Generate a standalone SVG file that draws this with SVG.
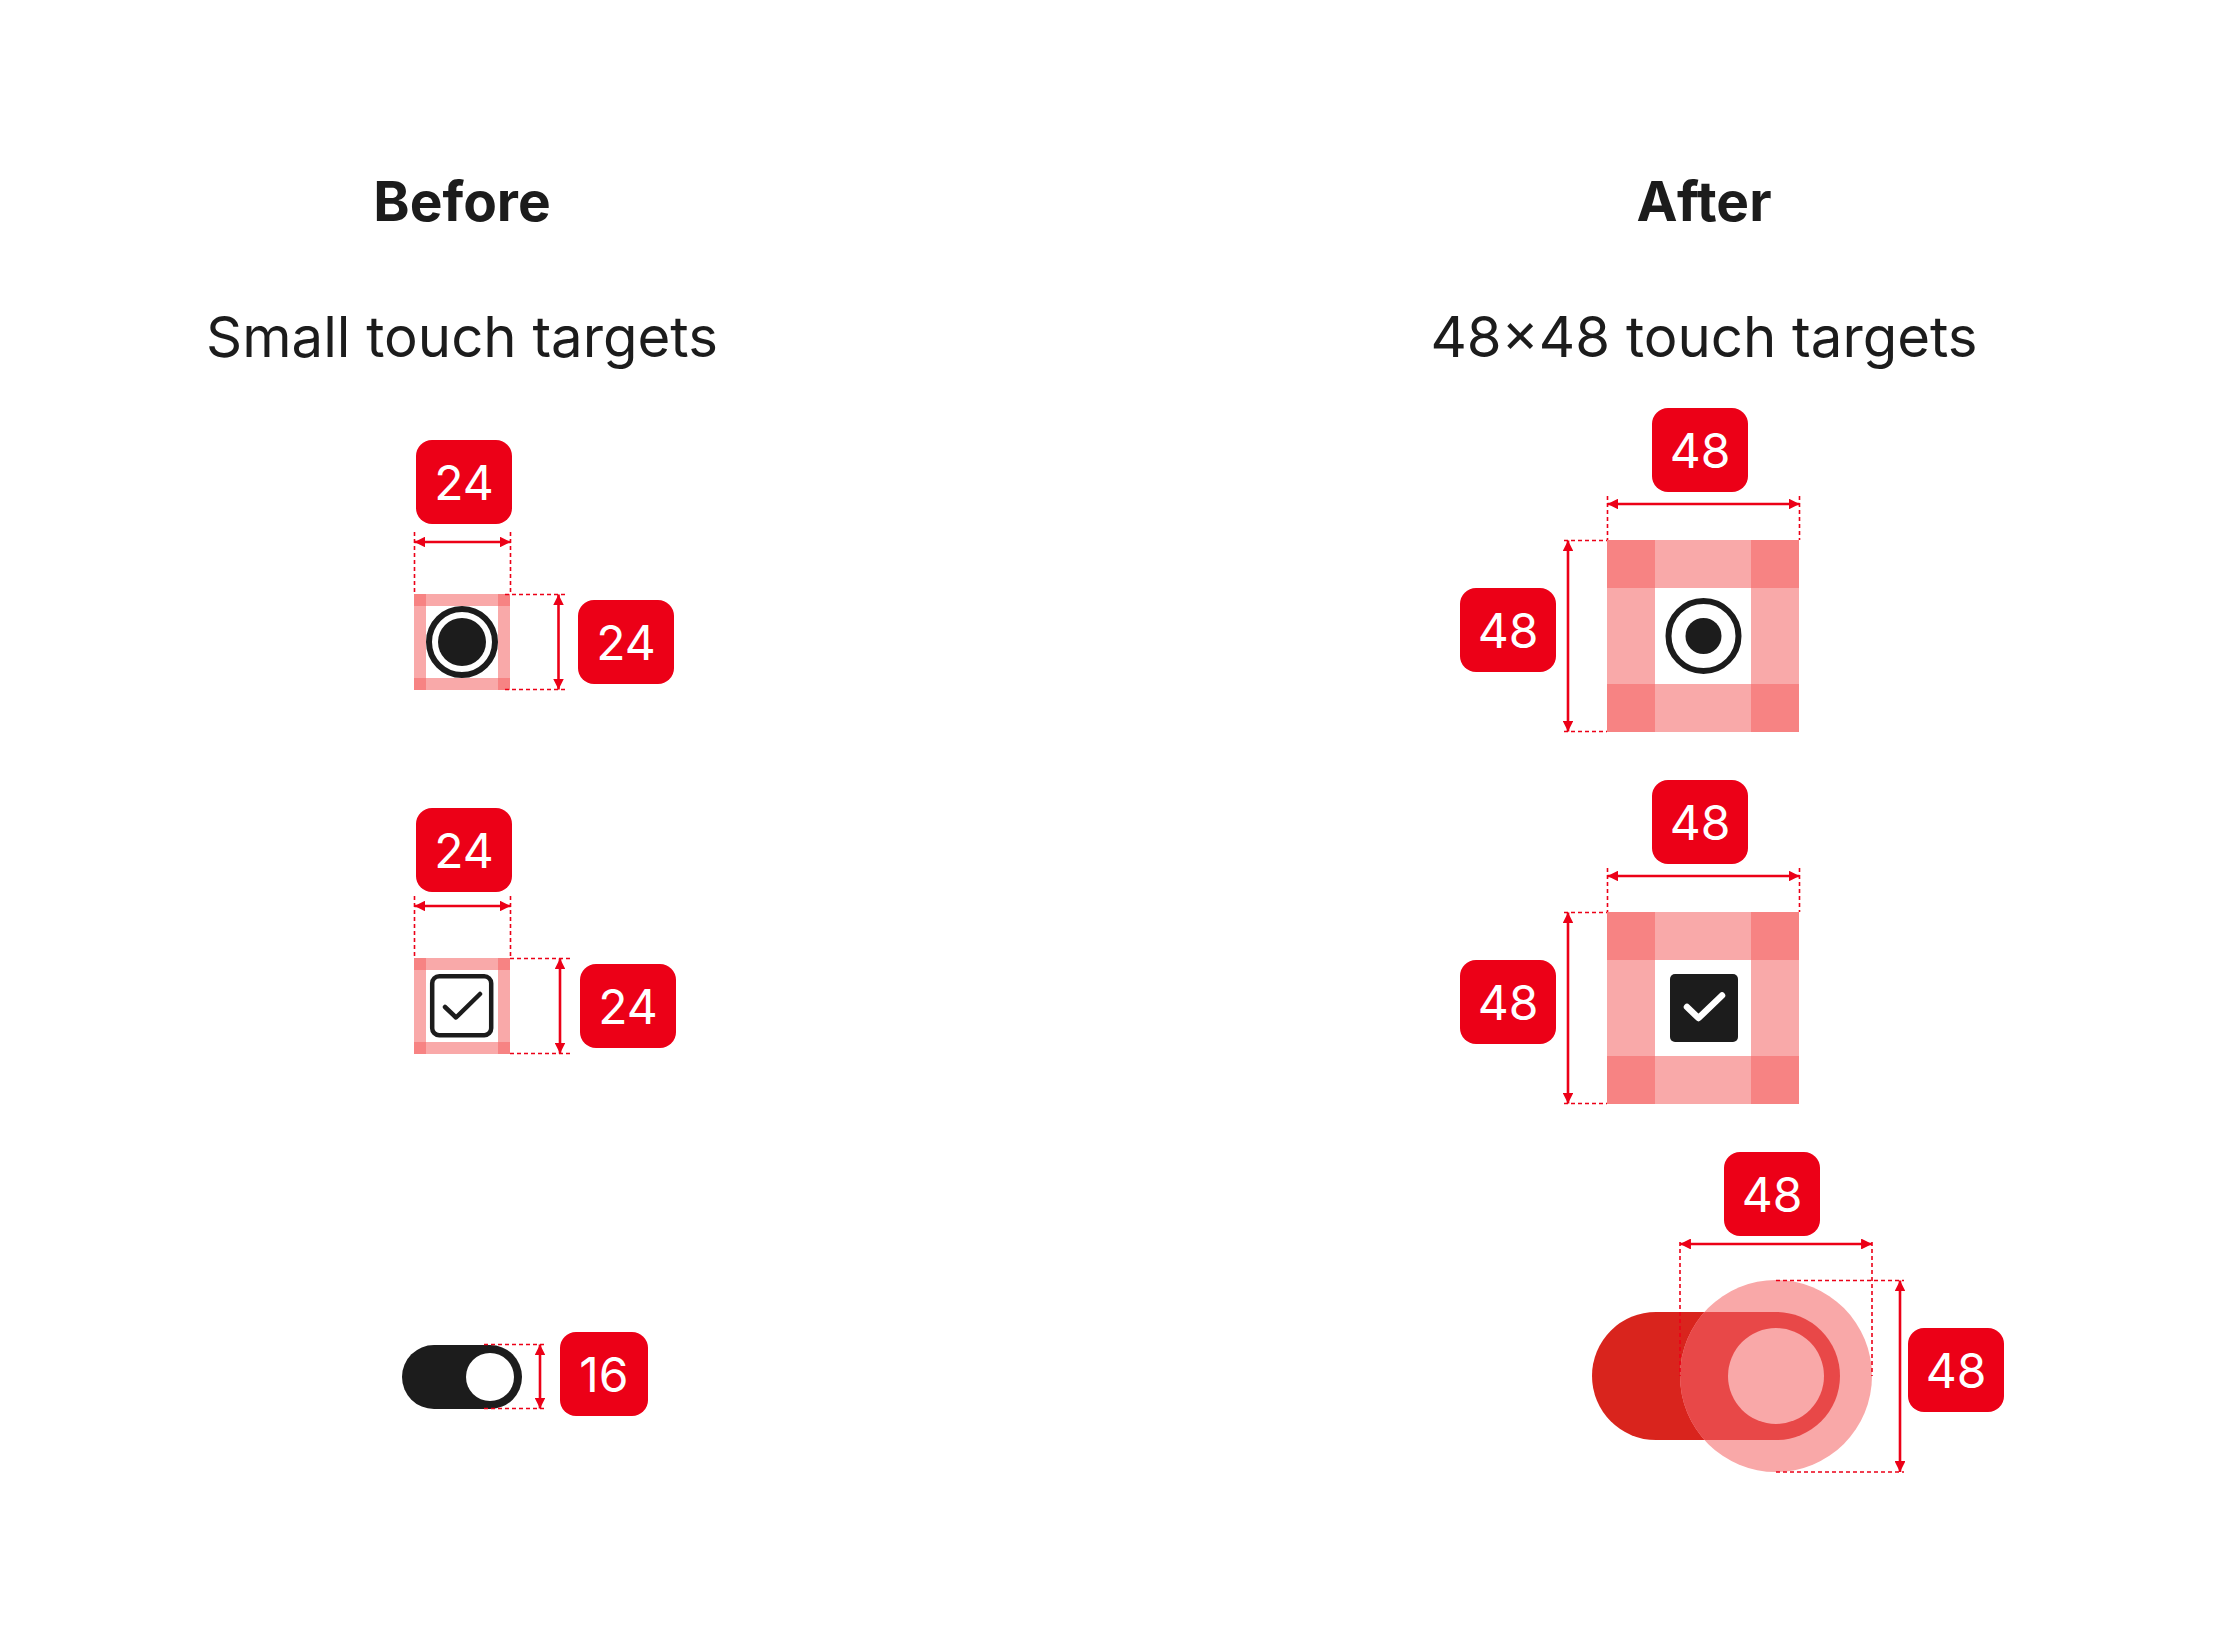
<svg xmlns="http://www.w3.org/2000/svg" width="2236" height="1636" viewBox="0 0 2236 1636">
<style>
.head{font-family:Inter,"Liberation Sans",sans-serif;font-weight:700;font-size:55px;fill:#1c1c1c;text-anchor:middle}
.sub{font-family:Inter,"Liberation Sans",sans-serif;font-weight:400;font-size:56.3px;fill:#1c1c1c;text-anchor:middle}
.badge{fill:#ec0017}
.btxt{font-family:Inter,"Liberation Sans",sans-serif;font-size:48px;fill:#ffffff;text-anchor:middle}
.band{fill:#f9a9a9}
.corner{fill:#f78383}
.dash{stroke:#ec0017;stroke-width:1.6;stroke-dasharray:4 3;fill:none}
.dim{stroke:#ec0017;stroke-width:2.6;fill:none;marker-start:url(#ah);marker-end:url(#ah)}
</style>
<defs>
<marker id="ah" viewBox="0 0 10 10" refX="10" refY="5" markerWidth="4.2" markerHeight="4.2" orient="auto-start-reverse" markerUnits="strokeWidth">
<path d="M0,0 L10,5 L0,10 z" fill="#ec0017"/>
</marker>
<clipPath id="haloClip"><circle cx="1776" cy="1376" r="96"/></clipPath>
</defs>
<rect width="2236" height="1636" fill="#ffffff"/>

<g id="titles">
<text class="head" x="462" y="221">Before</text>
<text class="sub" x="462" y="357">Small touch targets</text>
<text class="head" x="1704" y="221">After</text>
<text class="sub" x="1704" y="357">48×48 touch targets</text>
</g>

<!-- BEFORE radio -->
<g id="before-radio">
<rect class="band" x="414" y="594" width="96" height="96"/>
<rect x="426" y="606" width="72" height="72" fill="#ffffff"/>
<rect class="corner" x="414" y="594" width="12" height="12"/>
<rect class="corner" x="498" y="594" width="12" height="12"/>
<rect class="corner" x="414" y="678" width="12" height="12"/>
<rect class="corner" x="498" y="678" width="12" height="12"/>
<circle cx="462" cy="642" r="33" fill="none" stroke="#1c1c1c" stroke-width="6"/>
<circle cx="462" cy="642" r="24" fill="#1c1c1c"/>
</g>
<g id="before-radio-w">
<rect class="badge" x="416" y="440" width="96" height="84" rx="16"/>
<text class="btxt" x="464" y="499.5">24</text>
</g>
<g id="before-radio-h">
<rect class="badge" x="578" y="600" width="96" height="84" rx="16"/>
<text class="btxt" x="626" y="659.5">24</text>
</g>

<!-- BEFORE checkbox -->
<g id="before-checkbox">
<rect class="band" x="414" y="958" width="96" height="96"/>
<rect x="426" y="970" width="72" height="72" fill="#ffffff"/>
<rect class="corner" x="414" y="958" width="12" height="12"/>
<rect class="corner" x="498" y="958" width="12" height="12"/>
<rect class="corner" x="414" y="1042" width="12" height="12"/>
<rect class="corner" x="498" y="1042" width="12" height="12"/>
<rect x="432.2" y="976.2" width="59" height="59" rx="7" fill="none" stroke="#1c1c1c" stroke-width="4.5"/>
<polyline points="445,1007 456,1017.5 480,994" fill="none" stroke="#1c1c1c" stroke-width="4.5" stroke-linecap="round" stroke-linejoin="round"/>
</g>
<g id="before-checkbox-w">
<rect class="badge" x="416" y="808" width="96" height="84" rx="16"/>
<text class="btxt" x="464" y="867.5">24</text>
</g>
<g id="before-checkbox-h">
<rect class="badge" x="580" y="964" width="96" height="84" rx="16"/>
<text class="btxt" x="628" y="1023.5">24</text>
</g>

<!-- BEFORE toggle -->
<g id="before-toggle">
<rect x="402" y="1345" width="120" height="64" rx="32" fill="#1c1c1c"/>
<circle cx="490" cy="1377" r="24" fill="#ffffff"/>
</g>
<g id="before-toggle-h">
<rect class="badge" x="560" y="1332" width="88" height="84" rx="16"/>
<text class="btxt" x="604" y="1391.5">16</text>
</g>

<!-- AFTER radio -->
<g id="after-radio">
<rect class="band" x="1607" y="540" width="192" height="192"/>
<rect x="1655" y="588" width="96" height="96" fill="#ffffff"/>
<rect class="corner" x="1607" y="540" width="48" height="48"/>
<rect class="corner" x="1751" y="540" width="48" height="48"/>
<rect class="corner" x="1607" y="684" width="48" height="48"/>
<rect class="corner" x="1751" y="684" width="48" height="48"/>
<circle cx="1703.5" cy="636" r="35" fill="none" stroke="#1c1c1c" stroke-width="6"/>
<circle cx="1703.5" cy="636" r="18" fill="#1c1c1c"/>
</g>
<g id="after-radio-w">
<rect class="badge" x="1652" y="408" width="96" height="84" rx="16"/>
<text class="btxt" x="1700" y="467.5">48</text>
</g>
<g id="after-radio-h">
<rect class="badge" x="1460" y="588" width="96" height="84" rx="16"/>
<text class="btxt" x="1508" y="647.5">48</text>
</g>

<!-- AFTER checkbox -->
<g id="after-checkbox">
<rect class="band" x="1607" y="912" width="192" height="192"/>
<rect x="1655" y="960" width="96" height="96" fill="#ffffff"/>
<rect class="corner" x="1607" y="912" width="48" height="48"/>
<rect class="corner" x="1751" y="912" width="48" height="48"/>
<rect class="corner" x="1607" y="1056" width="48" height="48"/>
<rect class="corner" x="1751" y="1056" width="48" height="48"/>
<rect x="1670" y="974" width="68" height="68" rx="5" fill="#1c1c1c"/>
<polyline points="1687,1007 1698.5,1018 1722,995.5" fill="none" stroke="#ffffff" stroke-width="6.5" stroke-linecap="round" stroke-linejoin="round"/>
</g>
<g id="after-checkbox-w">
<rect class="badge" x="1652" y="780" width="96" height="84" rx="16"/>
<text class="btxt" x="1700" y="839.5">48</text>
</g>
<g id="after-checkbox-h">
<rect class="badge" x="1460" y="960" width="96" height="84" rx="16"/>
<text class="btxt" x="1508" y="1019.5">48</text>
</g>

<!-- AFTER toggle -->
<g id="after-toggle">
<rect x="1592" y="1312" width="248" height="128" rx="64" fill="#d9241d"/>
<circle cx="1776" cy="1376" r="96" fill="#f9a8a8"/>
<rect x="1592" y="1312" width="248" height="128" rx="64" fill="#e84848" clip-path="url(#haloClip)"/>
<circle cx="1776" cy="1376" r="48" fill="#f9a8a8"/>
</g>
<g id="after-toggle-w">
<rect class="badge" x="1724" y="1152" width="96" height="84" rx="16"/>
<text class="btxt" x="1772" y="1211.5">48</text>
</g>
<g id="after-toggle-h">
<rect class="badge" x="1908" y="1328" width="96" height="84" rx="16"/>
<text class="btxt" x="1956" y="1387.5">48</text>
</g>

<g id="connectors">
<!-- before radio -->
<path class="dash" d="M414.5,532 V594 M510.5,532 V594 M505,594.5 H568 M505,689.5 H568"/>
<line class="dim" x1="414.5" y1="542" x2="510.5" y2="542"/>
<line class="dim" x1="558.5" y1="594.5" x2="558.5" y2="689.5"/>
<!-- before checkbox -->
<path class="dash" d="M414.5,896 V958 M510.5,896 V958 M510,958.5 H570 M510,1053.5 H570"/>
<line class="dim" x1="414.5" y1="906" x2="510.5" y2="906"/>
<line class="dim" x1="560" y1="958.5" x2="560" y2="1053.5"/>
<!-- before toggle -->
<path class="dash" d="M484,1344.5 H547 M484,1408.5 H547"/>
<line class="dim" x1="540" y1="1344.5" x2="540" y2="1408.5"/>
<!-- after radio -->
<path class="dash" d="M1607.5,496 V540 M1799.5,496 V540 M1564,540.5 H1607 M1564,731.5 H1607"/>
<line class="dim" x1="1607.5" y1="504" x2="1799.5" y2="504"/>
<line class="dim" x1="1568" y1="540.5" x2="1568" y2="731.5"/>
<!-- after checkbox -->
<path class="dash" d="M1607.5,868 V912 M1799.5,868 V912 M1564,912.5 H1607 M1564,1103.5 H1607"/>
<line class="dim" x1="1607.5" y1="876" x2="1799.5" y2="876"/>
<line class="dim" x1="1568" y1="912.5" x2="1568" y2="1103.5"/>
<!-- after toggle -->
<path class="dash" d="M1680,1242 V1376 M1872,1242 V1376 M1776,1280.5 H1904 M1776,1472 H1904"/>
<line class="dim" x1="1680" y1="1244" x2="1872" y2="1244"/>
<line class="dim" x1="1900" y1="1280.5" x2="1900" y2="1472"/>
</g>
</svg>
